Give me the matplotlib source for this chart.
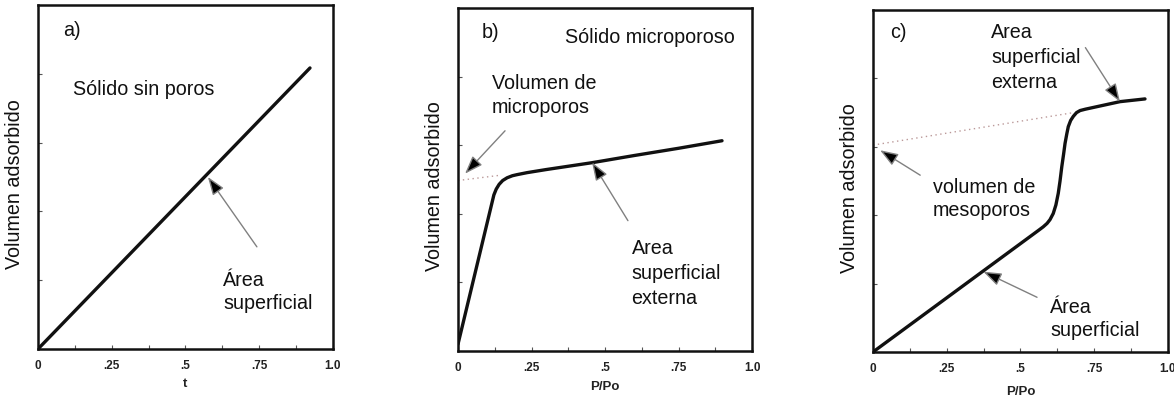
import matplotlib
matplotlib.use("Agg")
import matplotlib.pyplot as plt
from matplotlib.ticker import FixedLocator

plt.rcParams['font.family'] = ['Liberation Sans', 'DejaVu Sans']

# ---- data ----
x_ticks = [0, 0.25, 0.5, 0.75, 1.0]
x_ticklabels = ["0", ".25", ".5", ".75", "1.0"]
x_minor = [0.125, 0.375, 0.625, 0.875]
y_ticks = [0.2, 0.4, 0.6, 0.8]

a_x = [0.0, 0.922]
a_y = [0.0, 0.817]

b_x = [0.0, 0.122, 0.130, 0.140, 0.152, 0.167, 0.185, 0.20, 0.235, 0.30, 0.456, 0.60, 0.75, 0.898]
b_y = [0.02, 0.455, 0.472, 0.486, 0.497, 0.505, 0.511, 0.514, 0.520, 0.529, 0.549, 0.570, 0.591, 0.613]
b_dot_x = [0.0, 0.14]
b_dot_y = [0.497, 0.512]

c_x = [0.0, 0.560, 0.577, 0.590, 0.600, 0.611, 0.620, 0.628, 0.634, 0.640, 0.646, 0.651,
       0.657, 0.662, 0.670, 0.679, 0.690, 0.702, 0.720, 0.736, 0.837, 0.922]
c_y = [0.0, 0.355, 0.366, 0.376, 0.387, 0.405, 0.430, 0.464, 0.500, 0.542, 0.578, 0.610,
       0.638, 0.659, 0.677, 0.689, 0.700, 0.706, 0.710, 0.713, 0.732, 0.740]
c_dot_x = [0.0, 0.68]
c_dot_y = [0.605, 0.700]

panel_labels = ["a)", "b)", "c)"]
x_labels = ["t", "P/Po", "P/Po"]
y_label = "Volumen adsorbido"

fig = plt.figure(figsize=(11.74, 3.99), dpi=100)
W, H = 1174, 399

def make_ax(left, right, top, bottom):
    ax = fig.add_axes([left / W, (H - bottom) / H, (right - left) / W, (bottom - top) / H])
    ax.set_xlim(0, 1)
    ax.set_ylim(0, 1)
    for s in ax.spines.values():
        s.set_linewidth(1.8)
        s.set_color('#111111')
    ax.xaxis.set_major_locator(FixedLocator(x_ticks))
    ax.xaxis.set_minor_locator(FixedLocator(x_minor))
    ax.set_xticklabels(x_ticklabels, fontsize=8.5, fontweight='bold', color='#222222')
    ax.yaxis.set_major_locator(FixedLocator(y_ticks))
    ax.set_yticklabels([])
    ax.tick_params(axis='both', which='both', direction='in', length=3, width=0.8,
                   colors='#555555', top=False, right=False, pad=8)
    ax.tick_params(axis='x', labelcolor='#222222')
    ax.set_ylabel(y_label, fontsize=14.2, color='#111111')
    ax.yaxis.set_label_coords(-0.046, 0.48)
    return ax

ARROW = dict(arrowstyle='-|>,head_length=1.1,head_width=0.4', facecolor='black',
             edgecolor='#808080', lw=1.0, shrinkA=0, shrinkB=0)

def arrow(ax, tip, tail):
    ax.annotate('', xy=tip, xytext=tail, arrowprops=ARROW)

TXT = dict(fontsize=14.2, color='#111111', va='center', ha='left')
LINE = dict(color='#111111', lw=2.4, solid_capstyle='round', solid_joinstyle='round')
DOT = dict(color='#bb9999', lw=1.0, linestyle=(0, (1, 2.5)))

# panel a
ax = make_ax(38, 333, 5, 349)
ax.plot(a_x, a_y, **LINE)
ax.text(0.085, 0.925, panel_labels[0], **TXT)
ax.text(0.12, 0.753, "Sólido sin poros", **TXT)
ax.text(0.627, 0.20, "Área", **TXT)
ax.text(0.627, 0.133, "superficial", **TXT)
arrow(ax, (0.576, 0.50), (0.742, 0.297))
ax.set_xlabel(x_labels[0], fontsize=9.5, fontweight='bold', color='#222222', labelpad=4)

# panel b
ax = make_ax(458, 752, 8, 351)
ax.plot(b_dot_x, b_dot_y, **DOT)
ax.plot(b_x, b_y, **LINE)
ax.text(0.08, 0.93, panel_labels[1], **TXT)
ax.text(0.364, 0.913, "Sólido microporoso", **TXT)
ax.text(0.115, 0.78, "Volumen de", **TXT)
ax.text(0.115, 0.71, "microporos", **TXT)
ax.text(0.59, 0.30, "Area", **TXT)
ax.text(0.59, 0.227, "superficial", **TXT)
ax.text(0.59, 0.154, "externa", **TXT)
arrow(ax, (0.024, 0.517), (0.16, 0.642))
arrow(ax, (0.456, 0.55), (0.578, 0.38))
ax.set_xlabel(x_labels[1], fontsize=9.5, fontweight='bold', color='#222222', labelpad=5)

# panel c
ax = make_ax(873, 1168, 10, 352)
ax.plot(c_dot_x, c_dot_y, **DOT)
ax.plot(c_x, c_y, **LINE)
ax.text(0.058, 0.935, panel_labels[2], **TXT)
ax.text(0.40, 0.933, "Area", **TXT)
ax.text(0.40, 0.86, "superficial", **TXT)
ax.text(0.40, 0.787, "externa", **TXT)
ax.text(0.203, 0.48, "volumen de", **TXT)
ax.text(0.203, 0.415, "mesoporos", **TXT)
ax.text(0.60, 0.13, "Área", **TXT)
ax.text(0.60, 0.064, "superficial", **TXT)
arrow(ax, (0.024, 0.59), (0.16, 0.517))
arrow(ax, (0.374, 0.235), (0.556, 0.16))
arrow(ax, (0.837, 0.732), (0.72, 0.89))
ax.set_xlabel(x_labels[2], fontsize=9.5, fontweight='bold', color='#222222', labelpad=8)

fig.savefig("out.png", dpi=100)
